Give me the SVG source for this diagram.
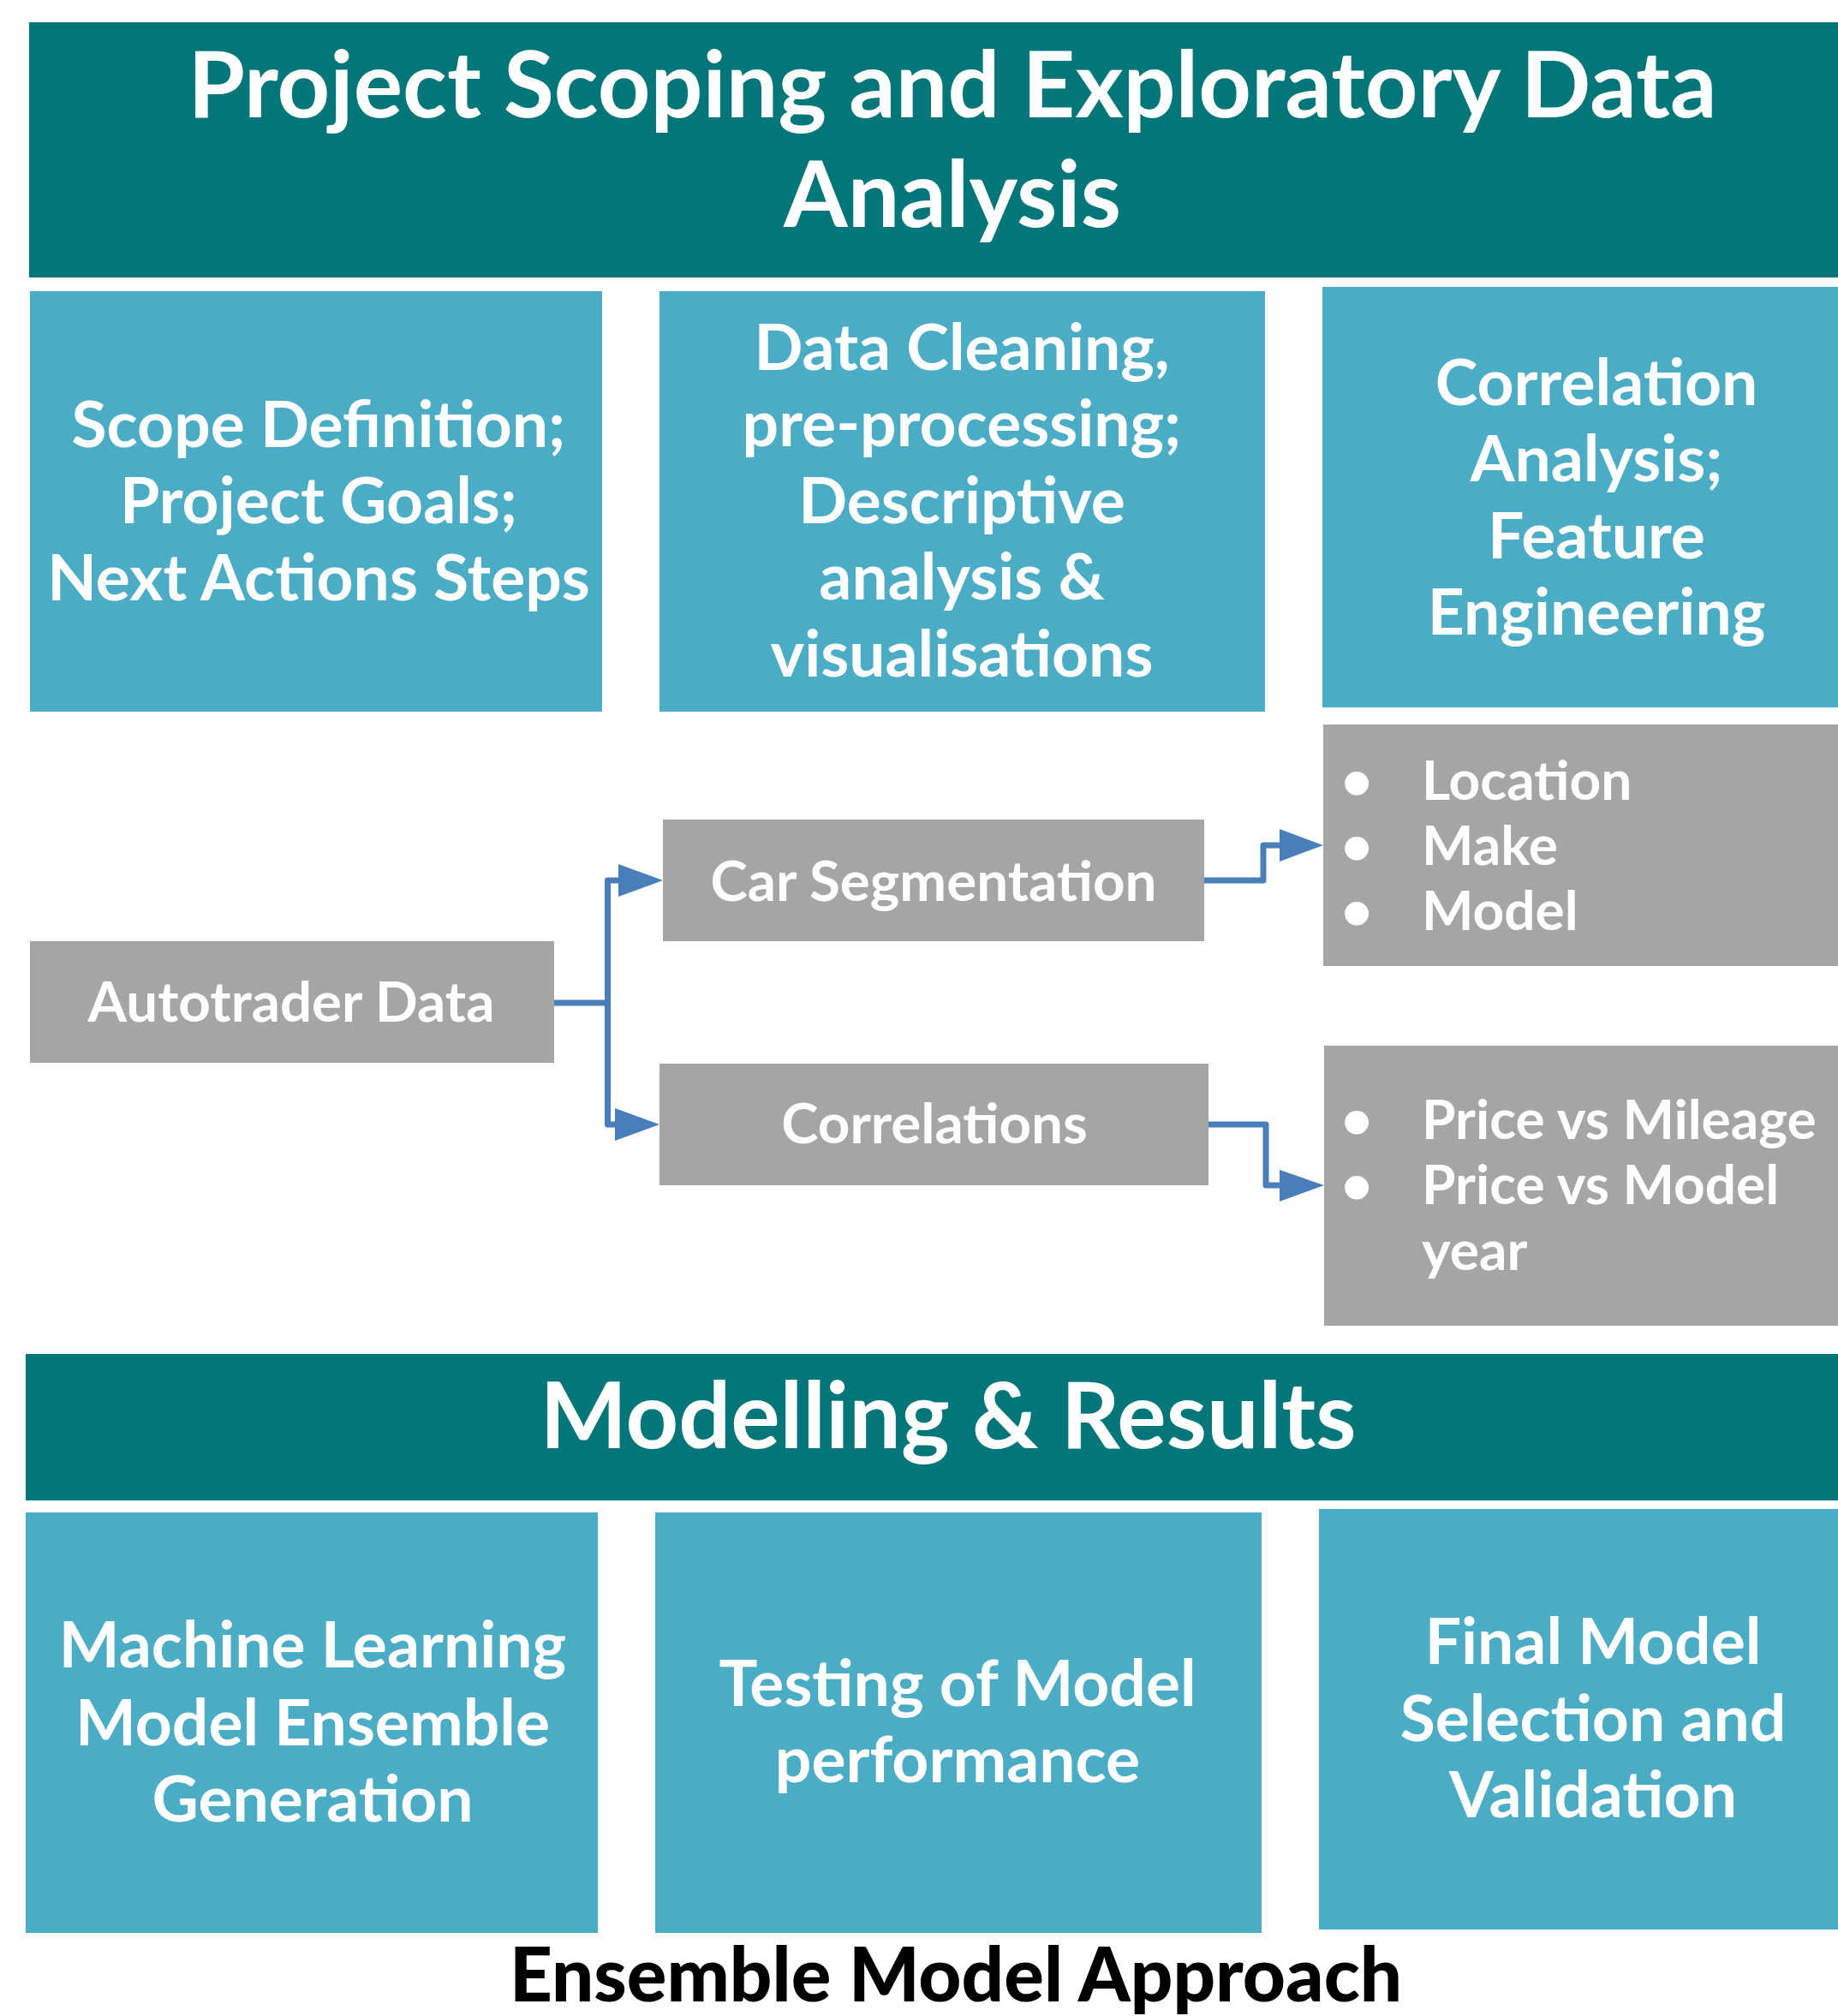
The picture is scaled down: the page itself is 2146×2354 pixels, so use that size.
<svg xmlns="http://www.w3.org/2000/svg" width="2146" height="2354" viewBox="0 0 2146 2354">
<style>
.banner{fill:#03767a}
.blue{fill:#4bacc6}
.gray{fill:#a5a5a5}
text{font-family:Lato,"Open Sans","Liberation Sans",sans-serif;fill:#ffffff;font-weight:700}
.t1{font-size:107.5px;text-anchor:middle}
.t2{font-size:75px;text-anchor:middle}
.t3{font-size:65.5px;text-anchor:middle}
.t4{font-size:64px}
.bul{font-size:64px;text-anchor:middle}
.foot{font-size:87px;text-anchor:middle;fill:#000000;font-weight:900}
.conn{fill:none;stroke:#4a7ebb;stroke-width:7;stroke-linejoin:round}
.head{fill:#4a7ebb}
</style>
<rect width="2146" height="2354" fill="#ffffff"/>
<g id="banner-top">
<rect class="banner" x="34" y="26" width="2112" height="298"/>
<text class="t1" x="1112" y="137">Project Scoping and Exploratory Data</text>
<text class="t1" x="1112" y="265">Analysis</text>
</g>
<g id="scope">
<rect class="blue" x="35" y="340" width="668" height="491"/>
<text class="t2" x="372" y="522">Scope Definition;</text>
<text class="t2" x="372" y="611">Project Goals;</text>
<text class="t2" x="372" y="701">Next Actions Steps</text>
</g>
<g id="cleaning">
<rect class="blue" x="770" y="340" width="707" height="491"/>
<text class="t2" x="1123" y="432">Data Cleaning,</text>
<text class="t2" x="1123" y="521">pre-processing;</text>
<text class="t2" x="1123" y="611">Descriptive</text>
<text class="t2" x="1123" y="700">analysis &amp;</text>
<text class="t2" x="1123" y="790">visualisations</text>
</g>
<g id="correlation-analysis">
<rect class="blue" x="1544" y="335" width="602" height="491"/>
<text class="t2" x="1864" y="473">Correlation</text>
<text class="t2" x="1864" y="562">Analysis;</text>
<text class="t2" x="1864" y="652">Feature</text>
<text class="t2" x="1864" y="741">Engineering</text>
</g>
<g id="autotrader">
<rect class="gray" x="35" y="1099" width="612" height="142"/>
<text class="t3" x="340" y="1193">Autotrader Data</text>
</g>
<g id="car-seg">
<rect class="gray" x="774" y="957" width="632" height="142"/>
<text class="t3" x="1090" y="1052">Car Segmentation</text>
</g>
<g id="correlations">
<rect class="gray" x="770" y="1242" width="641" height="142"/>
<text class="t3" x="1091" y="1335">Correlations</text>
</g>
<g id="seg-list">
<rect class="gray" x="1545" y="846" width="601" height="282"/>
<text class="bul" x="1584" y="934">•</text>
<text class="bul" x="1584" y="1010">•</text>
<text class="bul" x="1584" y="1086">•</text>
<text class="t4" x="1660" y="934">Location</text>
<text class="t4" x="1660" y="1010">Make</text>
<text class="t4" x="1660" y="1086">Model</text>
</g>
<g id="corr-list">
<rect class="gray" x="1546" y="1221" width="600" height="327"/>
<text class="bul" x="1584" y="1330">•</text>
<text class="bul" x="1584" y="1406">•</text>
<text class="t4" x="1660" y="1330">Price vs Mileage</text>
<text class="t4" x="1660" y="1406">Price vs Model</text>
<text class="t4" x="1660" y="1483">year</text>
</g>
<g id="connectors">
<path class="conn" d="M647 1171 H709.5 V1028 H724"/>
<polygon class="head" points="722,1009 774,1028 722,1047"/>
<path class="conn" d="M709.5 1171 V1313 H720"/>
<polygon class="head" points="718,1294 770,1313 718,1332"/>
<path class="conn" d="M1406 1028 H1475 V987 H1496"/>
<polygon class="head" points="1494,968 1545,987 1494,1006"/>
<path class="conn" d="M1411 1313 H1478 V1384 H1496"/>
<polygon class="head" points="1494,1366 1546,1384 1494,1403"/>
</g>
<g id="banner-bottom">
<rect class="banner" x="30" y="1581" width="2116" height="171"/>
<text class="t1" x="1107" y="1691">Modelling &amp; Results</text>
</g>
<g id="ml">
<rect class="blue" x="30" y="1766" width="668" height="491"/>
<text class="t2" x="365" y="1947">Machine Learning</text>
<text class="t2" x="365" y="2038">Model Ensemble</text>
<text class="t2" x="365" y="2127">Generation</text>
</g>
<g id="testing">
<rect class="blue" x="765" y="1766" width="708" height="491"/>
<text class="t2" x="1118" y="1992">Testing of Model</text>
<text class="t2" x="1118" y="2081">performance</text>
</g>
<g id="final">
<rect class="blue" x="1540" y="1762" width="606" height="491"/>
<text class="t2" x="1860" y="1943">Final Model</text>
<text class="t2" x="1860" y="2033">Selection and</text>
<text class="t2" x="1860" y="2122">Validation</text>
</g>
<text class="foot" x="1116" y="2337">Ensemble Model Approach</text>
</svg>
